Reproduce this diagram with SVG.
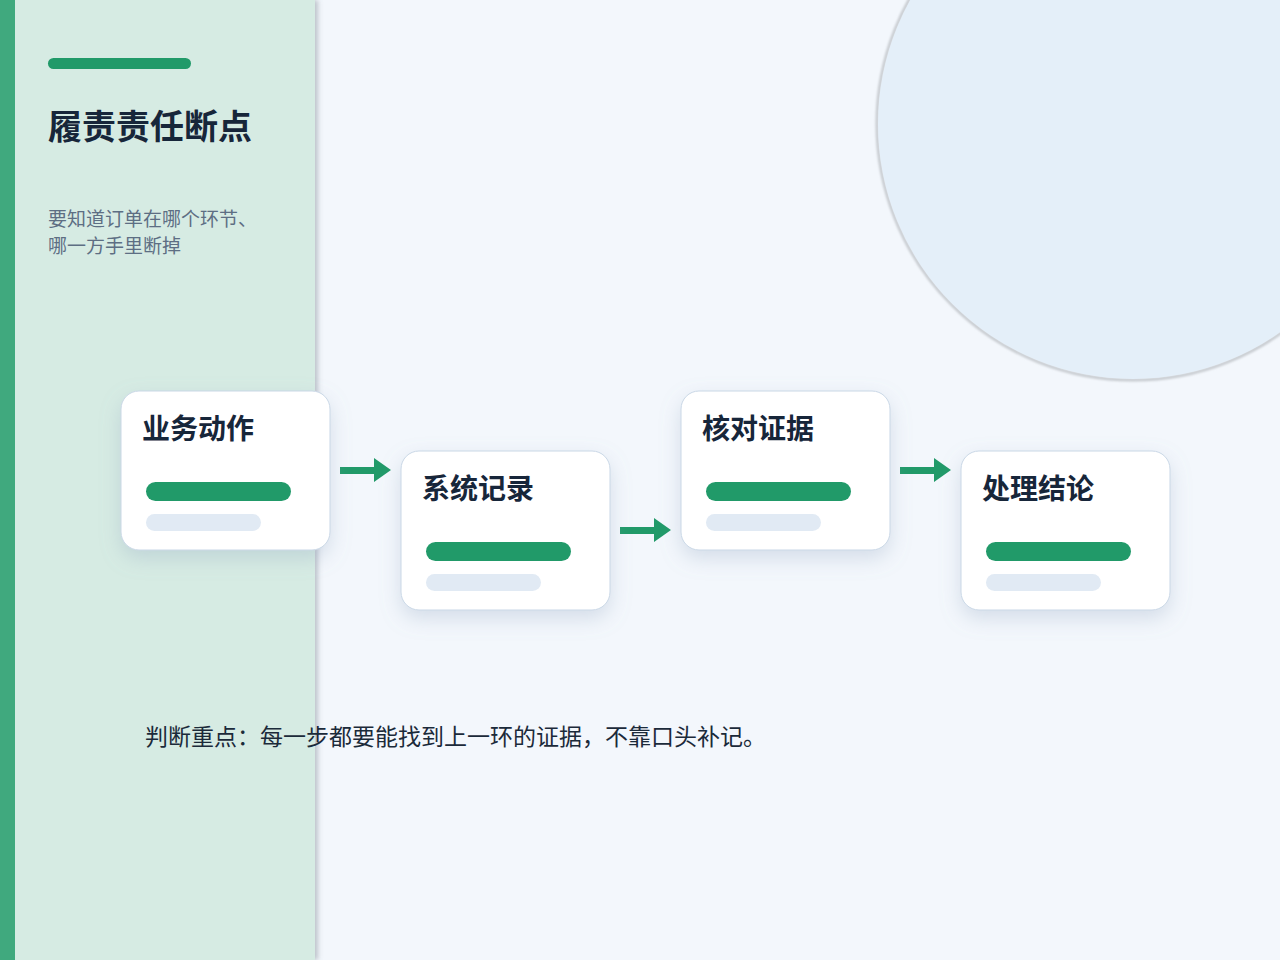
<svg xmlns="http://www.w3.org/2000/svg" width="1280" height="960" viewBox="0 0 1280 960">
<defs>
<style>
.card{fill:#ffffff;stroke:#c9d7e6;stroke-width:1}
.ctitle{font-family:"Noto Sans CJK SC","Noto Sans",sans-serif;font-size:28px;font-weight:700;fill:#17263a}
.gbar{fill:#219a69}
.lbar{fill:#e1eaf4}
.arrow{fill:#219a69}
</style>
<filter id="cardShadow" x="-30%" y="-30%" width="160%" height="170%">
<feDropShadow dx="0" dy="8" stdDeviation="10" flood-color="#8aa0bc" flood-opacity="0.3"/>
</filter>
<filter id="panelShadow" x="-10%" y="-10%" width="130%" height="120%">
<feDropShadow dx="3" dy="0" stdDeviation="2.5" flood-color="#5a6470" flood-opacity="0.35"/>
</filter>
<filter id="circShadow" x="-10%" y="-10%" width="120%" height="120%">
<feGaussianBlur stdDeviation="0.8"/>
</filter>
</defs>
<rect x="0" y="0" width="1280" height="960" fill="#f3f7fc"/>
<g id="circle">
<circle cx="1133" cy="124" r="256" fill="none" stroke="#c6cacf" stroke-width="3" filter="url(#circShadow)"/>
<circle cx="1133" cy="124" r="255" fill="#e4eff9"/>
</g>
<g id="panel">
<rect x="0" y="0" width="315" height="960" fill="#d6ebe3" filter="url(#panelShadow)"/>
<rect x="0" y="0" width="15" height="960" fill="#40a97e"/>
<rect x="48" y="58" width="143" height="11" rx="5.5" fill="#219a69"/>
<text x="48" y="139" font-family="Noto Sans CJK SC,sans-serif" font-size="34" font-weight="700" fill="#17263a">履责责任断点</text>
<text font-family="Noto Sans CJK SC,sans-serif" font-size="19" fill="#5d6e83"><tspan x="48" y="226">要知道订单在哪个环节、</tspan><tspan x="48" y="253">哪一方手里断掉</tspan></text>
</g>
<g id="connectors">
<path class="arrow" d="M340 467 H374 V458 L391 470 L374 482 V474 H340 Z"/>
<path class="arrow" d="M620 527 H654 V518 L671 530 L654 542 V534 H620 Z"/>
<path class="arrow" d="M900 467 H934 V458 L951 470 L934 482 V474 H900 Z"/>
</g>
<g id="node1">
<rect class="card" x="121" y="391" width="209" height="159" rx="18" filter="url(#cardShadow)"/>
<text class="ctitle" x="142" y="439">业务动作</text>
<rect class="gbar" x="146" y="482" width="145" height="19" rx="9.5"/>
<rect class="lbar" x="146" y="514" width="115" height="17" rx="8.5"/>
</g>
<g id="node2">
<rect class="card" x="401" y="451" width="209" height="159" rx="18" filter="url(#cardShadow)"/>
<text class="ctitle" x="422" y="499">系统记录</text>
<rect class="gbar" x="426" y="542" width="145" height="19" rx="9.5"/>
<rect class="lbar" x="426" y="574" width="115" height="17" rx="8.5"/>
</g>
<g id="node3">
<rect class="card" x="681" y="391" width="209" height="159" rx="18" filter="url(#cardShadow)"/>
<text class="ctitle" x="702" y="439">核对证据</text>
<rect class="gbar" x="706" y="482" width="145" height="19" rx="9.5"/>
<rect class="lbar" x="706" y="514" width="115" height="17" rx="8.5"/>
</g>
<g id="node4">
<rect class="card" x="961" y="451" width="209" height="159" rx="18" filter="url(#cardShadow)"/>
<text class="ctitle" x="982" y="499">处理结论</text>
<rect class="gbar" x="986" y="542" width="145" height="19" rx="9.5"/>
<rect class="lbar" x="986" y="574" width="115" height="17" rx="8.5"/>
</g>
<text x="145" y="745" font-family="Noto Sans CJK SC,sans-serif" font-size="23" fill="#1b2a3a">判断重点：每一步都要能找到上一环的证据，不靠口头补记。</text>
</svg>
